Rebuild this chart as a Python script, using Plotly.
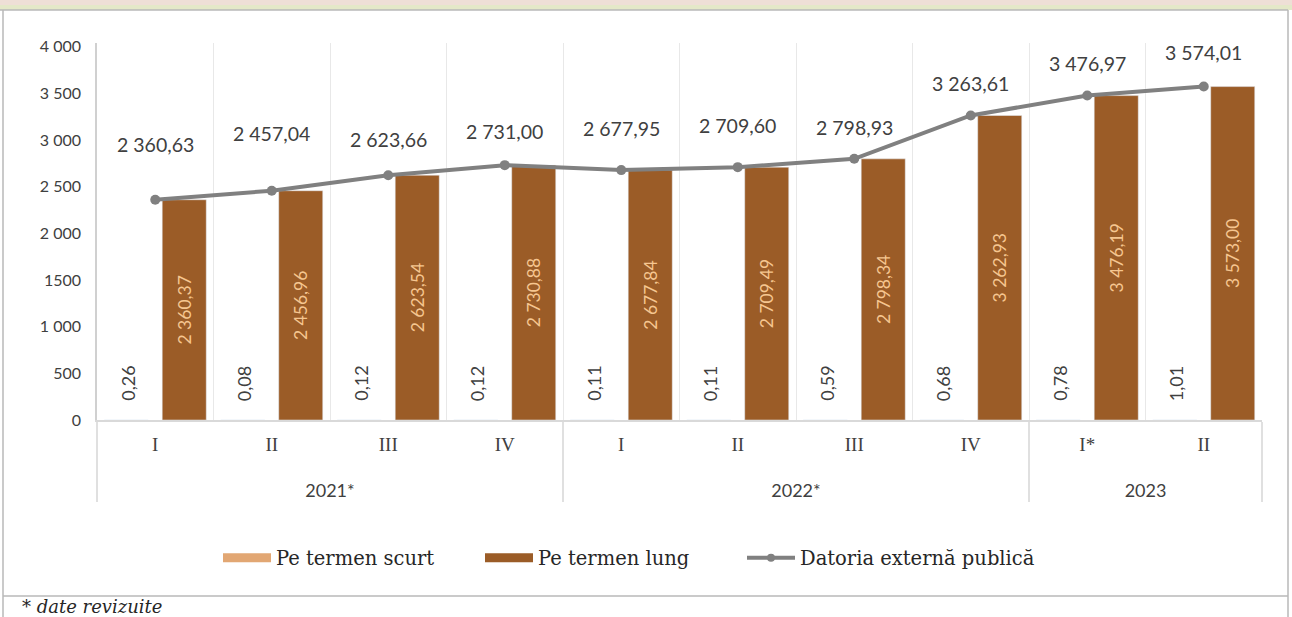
import plotly.graph_objects as go

years = ["2021*", "2021*", "2021*", "2021*", "2022*", "2022*", "2022*", "2022*", "2023", "2023"]
quarters = ["I", "II", "III", "IV", "I", "II", "III", "IV", "I*", "II"]
short_term = [0.26, 0.08, 0.12, 0.12, 0.11, 0.11, 0.59, 0.68, 0.78, 1.01]
long_term = [2360.37, 2456.96, 2623.54, 2730.88, 2677.84, 2709.49, 2798.34, 3262.93, 3476.19, 3573.00]
total = [2360.63, 2457.04, 2623.66, 2731.00, 2677.95, 2709.60, 2798.93, 3263.61, 3476.97, 3574.01]
y_ticks = [0, 500, 1000, 1500, 2000, 2500, 3000, 3500, 4000]
y_ticktext = ["0", "500", "1 000", "1500", "2 000", "2 500", "3 000", "3 500", "4 000"]

# label vertical offsets (px) for the line labels, as placed in the source
label_lift = [42, 44, 22, 20, 28, 28, 18, 18, 19, 20]


def fmt(v):
    s = f"{v:,.2f}"
    return s.replace(",", " ").replace(".", ",")


SANS = "Lato"
SERIF = "DejaVu Serif"
LONG_C = "#9B5C27"
SHORT_C = "#E2A773"
LINE_C = "#808080"

# axis keys: year group label (sans) and quarter label (serif); the quarter key is made
# unique per year group (extra ';' in style) so that plotly keeps the data order
year_order = list(dict.fromkeys(years))
year_key = [f"<br><span style='font-family:{SANS};font-size:18px'>{y}</span>" for y in years]
q_key = [f"<span style='font-size:19px{';' * (year_order.index(y) + 1)}'>{q}</span>"
         for y, q in zip(years, quarters)]
x = [year_key, q_key]

fig = go.Figure()
fig.add_trace(go.Bar(x=x, y=short_term, marker_color=SHORT_C, showlegend=False,
                     name="Pe termen scurt"))
fig.add_trace(go.Bar(x=x, y=long_term, marker_color=LONG_C, showlegend=False,
                     name="Pe termen lung",
                     text=[fmt(v) for v in long_term], textposition="inside",
                     insidetextanchor="middle", textangle=-90,
                     textfont=dict(family=SANS, size=17.5, color="#F6C690")))
fig.add_trace(go.Scatter(x=x, y=total, mode="lines+markers", showlegend=False,
                         line=dict(color=LINE_C, width=4),
                         marker=dict(color=LINE_C, size=10),
                         name="Datoria externă publică"))

# legend-only entries
fig.add_trace(go.Scatter(x=[None], y=[None], mode="lines", name="Pe termen scurt",
                         line=dict(color=SHORT_C, width=9)))
fig.add_trace(go.Scatter(x=[None], y=[None], mode="lines", name="Pe termen lung",
                         line=dict(color=LONG_C, width=9)))
fig.add_trace(go.Scatter(x=[None], y=[None], mode="lines+markers",
                         name="Datoria externă publică",
                         line=dict(color=LINE_C, width=4), marker=dict(color=LINE_C, size=8)))
fig.add_trace(go.Scatter(x=[None], y=[None], mode="lines", name=" ",
                         line=dict(color="rgba(0,0,0,0)", width=0)))

annotations = []
for i in range(len(total)):
    annotations.append(dict(x=[year_key[i], q_key[i]], y=total[i], xref="x", yref="y",
                            text=fmt(total[i]), showarrow=False, yanchor="bottom",
                            yshift=label_lift[i],
                            font=dict(family=SANS, size=19.5, color="#404040")))
    annotations.append(dict(x=[year_key[i], q_key[i]], y=short_term[i], xref="x", yref="y",
                            text=fmt(short_term[i]), showarrow=False, yanchor="bottom",
                            textangle=-90, xshift=-27, yshift=17,
                            font=dict(family=SANS, size=18, color="#404040")))

W, H = 1292, 617
ML, MR, MT, MB = 97, 30, 43, 197
pw, ph = W - ML - MR, H - MT - MB


def px(xp):
    return (xp - ML) / pw


def py(yp):
    return (H - MB - yp) / ph


annotations.append(dict(x=px(20), y=py(606), xref="paper", yref="paper",
                        text="<i>* date revizuite</i>", showarrow=False,
                        xanchor="left", yanchor="middle",
                        font=dict(family=SERIF, size=18, color="#262626")))

fig.update_layout(
    width=W, height=H,
    margin=dict(l=ML, r=MR, t=MT, b=MB),
    paper_bgcolor="white", plot_bgcolor="white",
    barmode="group", bargap=0.005, bargroupgap=0.24,
    font=dict(family=SANS, color="#404040"),
    showlegend=True,
    legend=dict(orientation="h", xref="container", yref="container",
                x=218 / W, y=1 - 558 / H, xanchor="left", yanchor="middle",
                font=dict(family=SERIF, size=19.5, color="#262626"),
                itemwidth=48, entrywidth=199, traceorder="normal"),
    annotations=annotations,
)

fig.update_xaxes(type="multicategory", automargin=False, range=[-0.5, 9.5],
                 tickson="boundaries", showgrid=True,
                 gridcolor="#E8E8E8", gridwidth=1, showline=True, linecolor="#D9D9D9",
                 linewidth=1.5, showdividers=True, dividercolor="#E0E0E0", dividerwidth=1.5,
                 ticklabelstandoff=4,
                 tickfont=dict(family="Liberation Serif", size=21, color="#404040"), ticks="")
fig.update_yaxes(automargin=False, range=[0, 4040], tickvals=y_ticks, ticktext=y_ticktext,
                 showgrid=False, showline=True, linecolor="#D0D0D0", linewidth=1.5,
                 zeroline=False, ticks="outside", ticklen=11, tickcolor="rgba(0,0,0,0)",
                 tickfont=dict(family=SANS, size=16, color="#404040"))

deco = [
    dict(type="rect", x0=px(0), x1=px(1292), y0=py(0), y1=py(5), fillcolor="#EEDFD6", line_width=0),
    dict(type="rect", x0=px(0), x1=px(1292), y0=py(5), y1=py(10), fillcolor="#E4E8C8", line_width=0),
    dict(type="line", x0=px(0), x1=px(1288), y0=py(10), y1=py(10), line=dict(color="#B8B8B8", width=1.5)),
    dict(type="line", x0=px(3), x1=px(3), y0=py(10), y1=py(617), line=dict(color="#B8B8B8", width=1.5)),
    dict(type="line", x0=px(1288), x1=px(1288), y0=py(10), y1=py(617), line=dict(color="#B8B8B8", width=1.5)),
    dict(type="line", x0=px(3), x1=px(1288), y0=py(596), y1=py(596), line=dict(color="#B8B8B8", width=1.5)),
]
for d in deco:
    d.update(xref="paper", yref="paper", layer="above")
fig.update_layout(shapes=deco)

fig.write_html("out.html", config={"displayModeBar": False},
               post_script="document.body.style.margin='0';")
